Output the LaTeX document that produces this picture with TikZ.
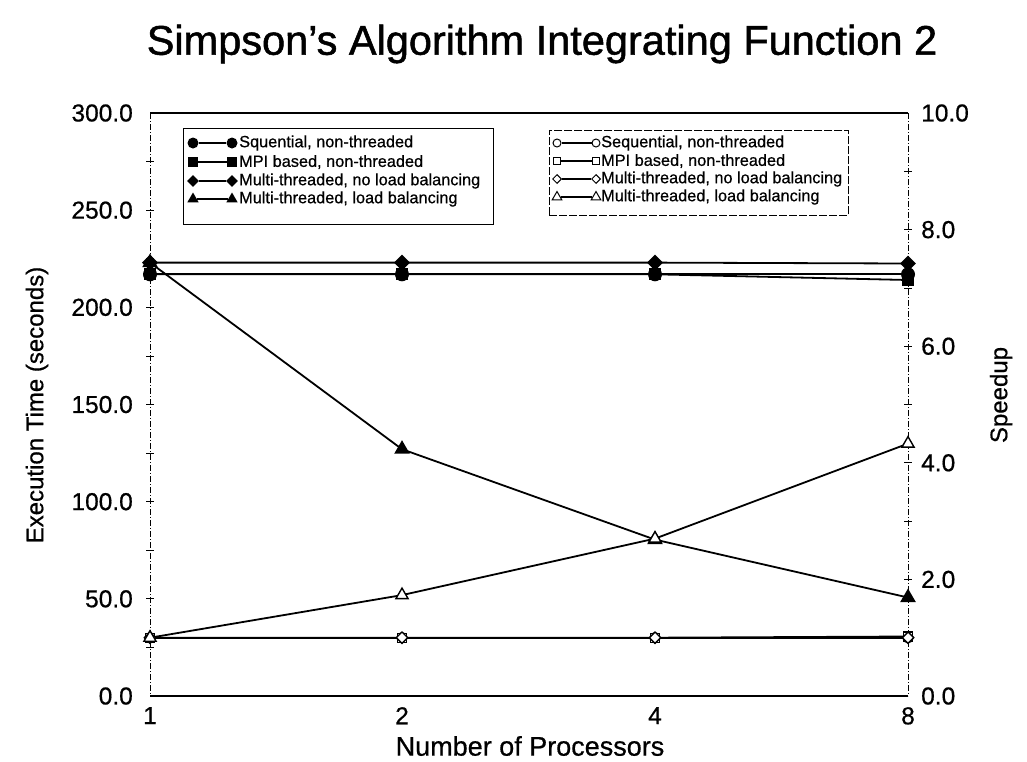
\documentclass[tikz,border=0pt]{standalone}
\usepackage{fontspec}
\setmainfont{Liberation Sans}
\newfontfamily\heavyfont[Ligatures=TeX, FakeBold=1.2]{Liberation Sans}
\newfontfamily\midfont[Ligatures=TeX, FakeBold=0.6]{Liberation Sans}
\usetikzlibrary{shapes.geometric}

\tikzset{
  series/.style={line width=1.8pt},
  fcirc/.style={circle, fill=black, inner sep=0pt, minimum size=14pt},
  fsq/.style={rectangle, fill=black, inner sep=0pt, minimum size=12pt},
  fdia/.style={diamond, fill=black, inner sep=0pt, minimum size=16pt},
  ftri/.style={regular polygon, regular polygon sides=3, fill=black, inner sep=0pt, minimum size=18pt},
  ocirc/.style={circle, draw=black, fill=white, line width=1.4pt, inner sep=0pt, minimum size=10pt},
  osq/.style={rectangle, draw=black, fill=white, line width=1.4pt, inner sep=0pt, minimum size=9pt},
  odia/.style={diamond, draw=black, fill=white, line width=1.4pt, inner sep=0pt, minimum size=12pt},
  otri/.style={regular polygon, regular polygon sides=3, draw=black, fill=white, line width=1.4pt, inner sep=0pt, minimum size=14pt},
  lfcirc/.style={circle, fill=black, inner sep=0pt, minimum size=11pt},
  lfsq/.style={rectangle, fill=black, inner sep=0pt, minimum size=10pt},
  lfdia/.style={diamond, fill=black, inner sep=0pt, minimum size=12pt},
  lftri/.style={regular polygon, regular polygon sides=3, fill=black, inner sep=0pt, minimum size=13pt},
  locirc/.style={circle, draw=black, fill=white, line width=1pt, inner sep=0pt, minimum size=8pt},
  losq/.style={rectangle, draw=black, fill=white, line width=1pt, inner sep=0pt, minimum size=7pt},
  lodia/.style={diamond, draw=black, fill=white, line width=1pt, inner sep=0pt, minimum size=9pt},
  lotri/.style={regular polygon, regular polygon sides=3, draw=black, fill=white, line width=1pt, inner sep=0pt, minimum size=11pt},
  ticklbl/.style={font=\midfont\fontsize{24.5}{24.5}\selectfont, inner sep=0pt},
  axlbl/.style={font=\midfont\fontsize{24}{24}\selectfont, inner sep=0pt},
  legtxt/.style={font=\midfont\fontsize{16.3}{16.3}\selectfont, anchor=west, inner sep=0pt},
  legline/.style={line width=1.4pt},
  vaxis/.style={line width=1pt, dash pattern=on 6pt off 2pt on 1pt off 2pt},
}

\begin{document}
\begin{tikzpicture}[x=1pt, y=-1pt]
\useasboundingbox (0,0) rectangle (1027,761);
\fill[white] (0,0) rectangle (1027,761);

% title
\node[font=\heavyfont\fontsize{41.5}{41.5}\selectfont, inner sep=0pt] (title) at (542,44) {Simpson's Algorithm Integrating Function 2};

% frame of the plot area
\coordinate (tl) at (150,113);
\coordinate (tr) at (908,113);
\coordinate (bl) at (150,696);
\coordinate (br) at (908,696);
\draw[vaxis] (tl) -- (bl);
\draw[vaxis] (tr) -- (br);
\draw[line width=1.6pt] (tl) -- (tr);
\draw[line width=2pt] (bl) -- (br);

% left axis: execution time, 0 to 300, ticks every 25
\foreach \v in {25,50,...,275} {
  \pgfmathsetmacro{\yy}{696-1.94333*\v}
  \draw[line width=0.8pt] (146,\yy) -- (154,\yy);
}
\foreach \v/\lbl in {0/0.0, 50/50.0, 100/100.0, 150/150.0, 200/200.0, 250/250.0, 300/300.0} {
  \pgfmathsetmacro{\yy}{696-1.94333*\v}
  \node[ticklbl, anchor=east] (yl\v) at (133,\yy) {\lbl};
}
% right axis: speedup, 0 to 10
\foreach \v/\lbl in {0/0.0, 2/2.0, 4/4.0, 6/6.0, 8/8.0, 10/10.0} {
  \pgfmathsetmacro{\yy}{696-58.3*\v}
  \node[ticklbl, anchor=west] (yr\v) at (921,\yy) {\lbl};
}
\foreach \v in {1,...,9} {
  \pgfmathsetmacro{\yy}{696-58.3*\v}
  \draw[line width=0.8pt] (904,\yy) -- (912,\yy);
}
% x axis: number of processors
\foreach \x/\lbl in {150/1, 402/2, 655/4, 908/8} {
  \node[ticklbl, anchor=north] (xl\lbl) at (\x,707) {\lbl};
}

\node[axlbl, font=\midfont\fontsize{27}{27}\selectfont] (xtitle) at (530,746) {Number of Processors};
\node[axlbl, rotate=90] (ytitle) at (37,405) {Execution Time (seconds)};
\node[axlbl, rotate=90] (y2title) at (1001,395) {Speedup};

% data points: execution time (filled markers, left axis)
\coordinate (s1) at (150,274.3); \coordinate (s2) at (402,274.3);
\coordinate (s3) at (655,274.3); \coordinate (s4) at (908,274.3);
\coordinate (m1) at (150,274.3); \coordinate (m2) at (402,274.3);
\coordinate (m3) at (655,274.3); \coordinate (m4) at (908,280.0);
\coordinate (d1) at (150,262.6); \coordinate (d2) at (402,262.6);
\coordinate (d3) at (655,262.6); \coordinate (d4) at (908,263.5);
\coordinate (t1) at (150,262.6); \coordinate (t2) at (402,449.2);
\coordinate (t3) at (655,539.6); \coordinate (t4) at (908,597.5);
% data points: speedup (open markers, right axis)
\coordinate (os1) at (150,637.7); \coordinate (os2) at (402,637.7);
\coordinate (os3) at (655,637.7); \coordinate (os4) at (908,637.7);
\coordinate (om1) at (150,637.7); \coordinate (om2) at (402,637.7);
\coordinate (om3) at (655,637.7); \coordinate (om4) at (908,636.5);
\coordinate (od1) at (150,637.7); \coordinate (od2) at (402,637.7);
\coordinate (od3) at (655,637.7); \coordinate (od4) at (908,637.7);
\coordinate (ot1) at (150,637.7); \coordinate (ot2) at (402,595.1);
\coordinate (ot3) at (655,538.6); \coordinate (ot4) at (908,443.6);

% series lines
\draw[series] (s1) -- (s2) -- (s3) -- (s4);
\draw[series] (m1) -- (m2) -- (m3) -- (m4);
\draw[series] (d1) -- (d2) -- (d3) -- (d4);
\draw[series] (t1) -- (t2) -- (t3) -- (t4);
\draw[series] (os1) -- (os2) -- (os3) -- (os4);
\draw[series] (om1) -- (om2) -- (om3) -- (om4);
\draw[series] (od1) -- (od2) -- (od3) -- (od4);
\draw[series] (ot1) -- (ot2) -- (ot3) -- (ot4);

% series markers
\foreach \i in {1,...,4} {
  \node[fcirc] at (s\i) {};
  \node[fsq] at (m\i) {};
  \node[fdia] at (d\i) {};
  \node[ftri] at (t\i) {};
  \node[ocirc] at (os\i) {};
  \node[osq] at (om\i) {};
  \node[odia] at (od\i) {};
  \node[otri] at (ot\i) {};
}

% legend for execution time
\node[draw, line width=1pt, minimum width=310pt, minimum height=96pt, anchor=north west, inner sep=0pt] (leg1) at (183,128) {};
\foreach \r/\yy/\sty/\txt in {1/143/lfcirc/{Squential, non-threaded},
                               2/162/lfsq/{MPI based, non-threaded},
                               3/181/lfdia/{Multi-threaded, no load balancing},
                               4/199/lftri/{Multi-threaded, load balancing}} {
  \node[\sty] (la\r) at (193,\yy) {};
  \node[\sty] (lb\r) at (232,\yy) {};
  \draw[legline] (la\r) -- (lb\r);
  \node[legtxt] (lt\r) at (239,\yy) {\txt};
}

% legend for speedup
\node[draw, line width=0.8pt, dash pattern=on 8pt off 2pt, minimum width=299pt, minimum height=85pt, anchor=north west, inner sep=0pt] (leg2) at (549,130) {};
\foreach \r/\yy/\sty/\txt in {1/143/locirc/{Sequential, non-threaded},
                               2/161/losq/{MPI based, non-threaded},
                               3/179/lodia/{Multi-threaded, no load balancing},
                               4/197/lotri/{Multi-threaded, load balancing}} {
  \node[\sty] (lc\r) at (557,\yy) {};
  \node[\sty] (ld\r) at (596,\yy) {};
  \draw[legline] (lc\r) -- (ld\r);
  \node[legtxt] (lu\r) at (601,\yy) {\txt};
}
\end{tikzpicture}
\end{document}
